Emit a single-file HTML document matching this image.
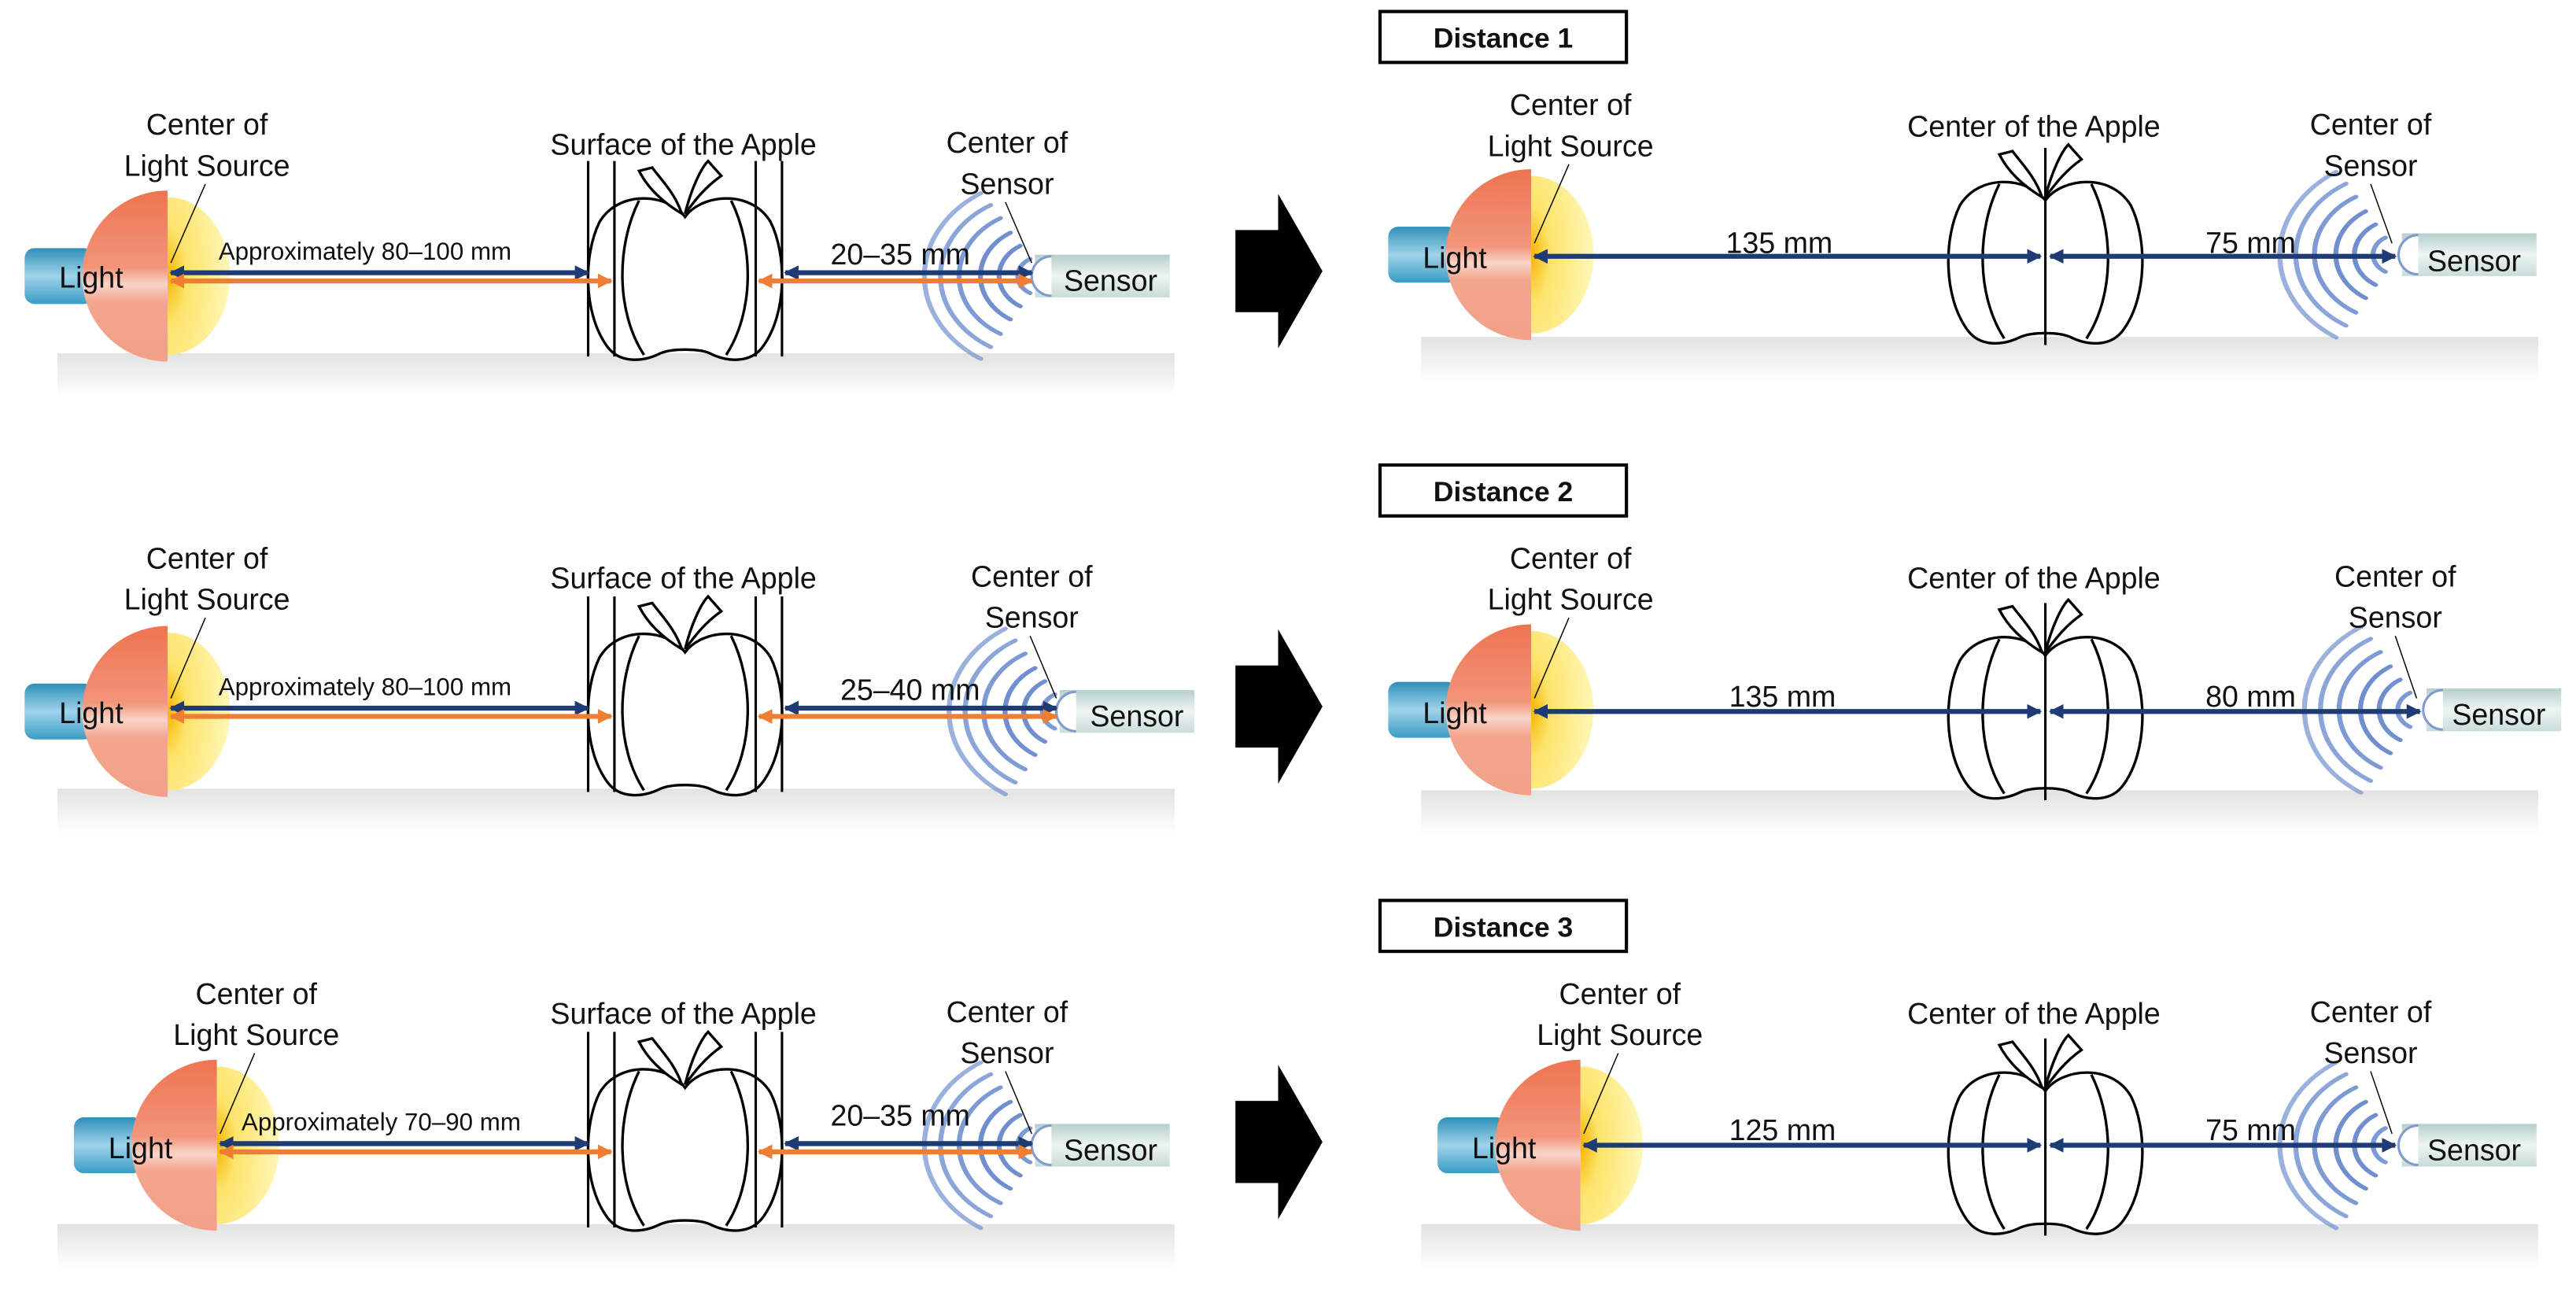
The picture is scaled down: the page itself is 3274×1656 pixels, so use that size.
<!DOCTYPE html>
<html><head><meta charset="utf-8"><style>html,body{margin:0;padding:0;background:#fff}svg{display:block}text{font-family:"Liberation Sans",Arial,sans-serif;fill:#111}</style></head>
<body>
<svg width="3274" height="1656" viewBox="0 0 1568 793" preserveAspectRatio="none" xmlns="http://www.w3.org/2000/svg">
<defs>
<linearGradient id="floor" x1="0" y1="0" x2="0" y2="1"><stop offset="0" stop-color="#e2e2e2"/><stop offset="1" stop-color="#ffffff"/></linearGradient>
<linearGradient id="cap" x1="0" y1="0" x2="0" y2="1"><stop offset="0" stop-color="#2f8fb8"/><stop offset="0.5" stop-color="#9fd3ea"/><stop offset="1" stop-color="#3a9cc6"/></linearGradient>
<linearGradient id="orng" x1="0" y1="0" x2="0" y2="1"><stop offset="0" stop-color="#ee7450"/><stop offset="0.45" stop-color="#f2957a"/><stop offset="0.55" stop-color="#f8d4c8"/><stop offset="0.65" stop-color="#f4a58d"/><stop offset="1" stop-color="#f2a088"/></linearGradient>
<radialGradient id="ylw" cx="0" cy="0.5" r="1"><stop offset="0" stop-color="#f5b400"/><stop offset="0.3" stop-color="#fde36a"/><stop offset="1" stop-color="#fff7b8"/></radialGradient>
<linearGradient id="sens" x1="0" y1="0" x2="0" y2="1"><stop offset="0" stop-color="#b5cfcb"/><stop offset="0.5" stop-color="#eef5f3"/><stop offset="1" stop-color="#c8dcd8"/></linearGradient>
<marker id="an" viewBox="0 0 10 10" refX="9" refY="5" markerWidth="3" markerHeight="3" orient="auto-start-reverse"><path d="M0,0 L10,5 L0,10 Z" fill="#1f3b73"/></marker>
<marker id="ao" viewBox="0 0 10 10" refX="9" refY="5" markerWidth="3" markerHeight="3" orient="auto-start-reverse"><path d="M0,0 L10,5 L0,10 Z" fill="#ef7d32"/></marker>
<g id="light">
<rect x="-87" y="-17" width="42" height="34" rx="6" fill="url(#cap)"/>
<path d="M0,-48 A38,48 0 0 1 0,48 Z" fill="url(#ylw)"/>
<path d="M0,-52 A52,52 0 0 0 0,52 Z" fill="url(#orng)"/>
</g>
<g id="apple" fill="none" stroke="#000" stroke-width="1.6">
<path d="M0,22 C-10,8 -40,5 -52,25 C-62,45 -62,80 -48,100 C-40,112 -25,110 -15,105 C-8,102 8,102 15,105 C25,110 40,112 48,100 C62,80 62,45 52,25 C40,5 10,8 0,22 Z" fill="#fff"/>
<path d="M-28,12 C-42,40 -42,80 -25,106"/>
<path d="M28,12 C42,40 42,80 25,106"/>
<path d="M-2,20 C-6,8 -14,0 -20,-8 L-28,-6 C-22,6 -12,14 -2,20 Z" fill="#fff"/>
<path d="M0,20 C4,4 10,-8 14,-12 L22,-3 C12,4 6,12 0,20 Z" fill="#fff"/>
</g>
<g id="waves" fill="none" stroke="#6f8fcf" stroke-width="3" stroke-linecap="round" transform="scale(1,0.8)">
<path d="M-8,-13 A15,15 0 0 0 -8,13" opacity="0.9"/>
<path d="M-14,-23 A27,27 0 0 0 -14,23"/>
<path d="M-20,-33 A39,39 0 0 0 -20,33"/>
<path d="M-26,-44 A51,51 0 0 0 -26,44" opacity="0.9"/>
<path d="M-32,-54 A63,63 0 0 0 -32,54" opacity="0.8"/>
<path d="M-38,-63 A75,75 0 0 0 -38,63" opacity="0.7"/>
</g>
<g id="sensor">
<rect x="0" y="-13" width="82" height="26" fill="url(#sens)"/>
<path d="M10,-12 A12,12 0 0 0 10,12" fill="#fff" stroke="#7f9bd0" stroke-width="1.5"/>
</g>
<g id="bigarrow"><path d="M752,140 L778,140 L778,118 L805,165 L778,212 L778,190 L752,190 Z" fill="#000"/></g>
</defs>

<!-- ========== ROW 1 ========== -->
<rect x="35" y="215" width="680" height="27" fill="url(#floor)"/>
<use href="#light" x="102" y="168"/>
<text x="36" y="175" font-size="18">Light</text>
<text x="126" y="82" font-size="18" text-anchor="middle">Center of</text>
<text x="126" y="107" font-size="18" text-anchor="middle">Light Source</text>
<line x1="125" y1="112" x2="104" y2="160" stroke="#000" stroke-width="0.7"/>
<use href="#waves" x="635" y="168"/>
<use href="#sensor" x="630" y="168"/>
<text x="676" y="177" font-size="18" text-anchor="middle">Sensor</text>
<text x="613" y="93" font-size="18" text-anchor="middle">Center of</text>
<text x="613" y="118" font-size="18" text-anchor="middle">Sensor</text>
<line x1="612" y1="123" x2="628" y2="160" stroke="#000" stroke-width="0.7"/>
<use href="#apple" x="417" y="110"/>
<g stroke="#000" stroke-width="1.5"><line x1="358" y1="98" x2="358" y2="217"/><line x1="374" y1="98" x2="374" y2="217"/><line x1="460" y1="98" x2="460" y2="217"/><line x1="476" y1="98" x2="476" y2="217"/></g>
<text x="416" y="94" font-size="18" text-anchor="middle">Surface of the Apple</text>
<line x1="104" y1="166" x2="358" y2="166" stroke="#1f3b73" stroke-width="3" marker-start="url(#an)" marker-end="url(#an)"/>
<line x1="104" y1="171" x2="372" y2="171" stroke="#ef7d32" stroke-width="3" marker-start="url(#ao)" marker-end="url(#ao)"/>
<line x1="478" y1="166" x2="628" y2="166" stroke="#1f3b73" stroke-width="3" marker-start="url(#an)" marker-end="url(#an)"/>
<line x1="462" y1="171" x2="628" y2="171" stroke="#ef7d32" stroke-width="3" marker-start="url(#ao)" marker-end="url(#ao)"/>
<text x="133" y="158" font-size="15">Approximately 80–100 mm</text>
<text x="548" y="161" font-size="18" text-anchor="middle">20–35 mm</text>
<use href="#bigarrow"/>

<rect x="840" y="7" width="150" height="31" fill="#fff" stroke="#000" stroke-width="2"/>
<text x="915" y="29" font-size="17" font-weight="bold" text-anchor="middle">Distance 1</text>
<rect x="865" y="205" width="680" height="27" fill="url(#floor)"/>
<use href="#light" x="932" y="155"/>
<text x="866" y="163" font-size="18">Light</text>
<text x="956" y="70" font-size="18" text-anchor="middle">Center of</text>
<text x="956" y="95" font-size="18" text-anchor="middle">Light Source</text>
<line x1="955" y1="100" x2="934" y2="148" stroke="#000" stroke-width="0.7"/>
<use href="#waves" x="1460" y="155"/>
<use href="#sensor" x="1462" y="155"/>
<text x="1506" y="165" font-size="18" text-anchor="middle">Sensor</text>
<text x="1443" y="82" font-size="18" text-anchor="middle">Center of</text>
<text x="1443" y="107" font-size="18" text-anchor="middle">Sensor</text>
<line x1="1443" y1="112" x2="1456" y2="148" stroke="#000" stroke-width="0.7"/>
<use href="#apple" x="1245" y="100"/>
<line x1="1245" y1="90" x2="1245" y2="210" stroke="#000" stroke-width="1.5"/>
<text x="1238" y="83" font-size="18" text-anchor="middle">Center of the Apple</text>
<line x1="934" y1="156" x2="1242" y2="156" stroke="#1f3b73" stroke-width="3" marker-start="url(#an)" marker-end="url(#an)"/>
<line x1="1248" y1="156" x2="1458" y2="156" stroke="#1f3b73" stroke-width="3" marker-start="url(#an)" marker-end="url(#an)"/>
<text x="1083" y="154" font-size="18" text-anchor="middle">135 mm</text>
<text x="1370" y="154" font-size="18" text-anchor="middle">75 mm</text>

<!-- ========== ROW 2 ========== -->
<rect x="35" y="480" width="680" height="27" fill="url(#floor)"/>
<use href="#light" x="102" y="433"/>
<text x="36" y="440" font-size="18">Light</text>
<text x="126" y="346" font-size="18" text-anchor="middle">Center of</text>
<text x="126" y="371" font-size="18" text-anchor="middle">Light Source</text>
<line x1="125" y1="376" x2="104" y2="425" stroke="#000" stroke-width="0.7"/>
<use href="#waves" x="650" y="433"/>
<use href="#sensor" x="645" y="433"/>
<text x="692" y="442" font-size="18" text-anchor="middle">Sensor</text>
<text x="628" y="357" font-size="18" text-anchor="middle">Center of</text>
<text x="628" y="382" font-size="18" text-anchor="middle">Sensor</text>
<line x1="627" y1="387" x2="643" y2="425" stroke="#000" stroke-width="0.7"/>
<use href="#apple" x="417" y="375"/>
<g stroke="#000" stroke-width="1.5"><line x1="358" y1="363" x2="358" y2="482"/><line x1="374" y1="363" x2="374" y2="482"/><line x1="460" y1="363" x2="460" y2="482"/><line x1="476" y1="363" x2="476" y2="482"/></g>
<text x="416" y="358" font-size="18" text-anchor="middle">Surface of the Apple</text>
<line x1="104" y1="431" x2="358" y2="431" stroke="#1f3b73" stroke-width="3" marker-start="url(#an)" marker-end="url(#an)"/>
<line x1="104" y1="436" x2="372" y2="436" stroke="#ef7d32" stroke-width="3" marker-start="url(#ao)" marker-end="url(#ao)"/>
<line x1="478" y1="431" x2="643" y2="431" stroke="#1f3b73" stroke-width="3" marker-start="url(#an)" marker-end="url(#an)"/>
<line x1="462" y1="436" x2="643" y2="436" stroke="#ef7d32" stroke-width="3" marker-start="url(#ao)" marker-end="url(#ao)"/>
<text x="133" y="423" font-size="15">Approximately 80–100 mm</text>
<text x="554" y="426" font-size="18" text-anchor="middle">25–40 mm</text>
<use href="#bigarrow" y="265"/>

<rect x="840" y="283" width="150" height="31" fill="#fff" stroke="#000" stroke-width="2"/>
<text x="915" y="305" font-size="17" font-weight="bold" text-anchor="middle">Distance 2</text>
<rect x="865" y="481" width="680" height="27" fill="url(#floor)"/>
<use href="#light" x="932" y="432"/>
<text x="866" y="440" font-size="18">Light</text>
<text x="956" y="346" font-size="18" text-anchor="middle">Center of</text>
<text x="956" y="371" font-size="18" text-anchor="middle">Light Source</text>
<line x1="955" y1="376" x2="934" y2="425" stroke="#000" stroke-width="0.7"/>
<use href="#waves" x="1475" y="432"/>
<use href="#sensor" x="1477" y="432"/>
<text x="1521" y="441" font-size="18" text-anchor="middle">Sensor</text>
<text x="1458" y="357" font-size="18" text-anchor="middle">Center of</text>
<text x="1458" y="382" font-size="18" text-anchor="middle">Sensor</text>
<line x1="1458" y1="387" x2="1471" y2="425" stroke="#000" stroke-width="0.7"/>
<use href="#apple" x="1245" y="377"/>
<line x1="1245" y1="367" x2="1245" y2="487" stroke="#000" stroke-width="1.5"/>
<text x="1238" y="358" font-size="18" text-anchor="middle">Center of the Apple</text>
<line x1="934" y1="433" x2="1242" y2="433" stroke="#1f3b73" stroke-width="3" marker-start="url(#an)" marker-end="url(#an)"/>
<line x1="1248" y1="433" x2="1473" y2="433" stroke="#1f3b73" stroke-width="3" marker-start="url(#an)" marker-end="url(#an)"/>
<text x="1085" y="430" font-size="18" text-anchor="middle">135 mm</text>
<text x="1370" y="430" font-size="18" text-anchor="middle">80 mm</text>

<!-- ========== ROW 3 ========== -->
<rect x="35" y="745" width="680" height="27" fill="url(#floor)"/>
<use href="#light" x="132" y="697"/>
<text x="66" y="705" font-size="18">Light</text>
<text x="156" y="611" font-size="18" text-anchor="middle">Center of</text>
<text x="156" y="636" font-size="18" text-anchor="middle">Light Source</text>
<line x1="155" y1="641" x2="134" y2="690" stroke="#000" stroke-width="0.7"/>
<use href="#waves" x="635" y="697"/>
<use href="#sensor" x="630" y="697"/>
<text x="676" y="706" font-size="18" text-anchor="middle">Sensor</text>
<text x="613" y="622" font-size="18" text-anchor="middle">Center of</text>
<text x="613" y="647" font-size="18" text-anchor="middle">Sensor</text>
<line x1="612" y1="652" x2="628" y2="690" stroke="#000" stroke-width="0.7"/>
<use href="#apple" x="417" y="640"/>
<g stroke="#000" stroke-width="1.5"><line x1="358" y1="628" x2="358" y2="747"/><line x1="374" y1="628" x2="374" y2="747"/><line x1="460" y1="628" x2="460" y2="747"/><line x1="476" y1="628" x2="476" y2="747"/></g>
<text x="416" y="623" font-size="18" text-anchor="middle">Surface of the Apple</text>
<line x1="134" y1="696" x2="358" y2="696" stroke="#1f3b73" stroke-width="3" marker-start="url(#an)" marker-end="url(#an)"/>
<line x1="134" y1="701" x2="372" y2="701" stroke="#ef7d32" stroke-width="3" marker-start="url(#ao)" marker-end="url(#ao)"/>
<line x1="478" y1="696" x2="628" y2="696" stroke="#1f3b73" stroke-width="3" marker-start="url(#an)" marker-end="url(#an)"/>
<line x1="462" y1="701" x2="628" y2="701" stroke="#ef7d32" stroke-width="3" marker-start="url(#ao)" marker-end="url(#ao)"/>
<text x="147" y="688" font-size="15">Approximately  70–90 mm</text>
<text x="548" y="685" font-size="18" text-anchor="middle">20–35 mm</text>
<use href="#bigarrow" y="530"/>

<rect x="840" y="548" width="150" height="31" fill="#fff" stroke="#000" stroke-width="2"/>
<text x="915" y="570" font-size="17" font-weight="bold" text-anchor="middle">Distance 3</text>
<rect x="865" y="745" width="680" height="27" fill="url(#floor)"/>
<use href="#light" x="962" y="697"/>
<text x="896" y="705" font-size="18">Light</text>
<text x="986" y="611" font-size="18" text-anchor="middle">Center of</text>
<text x="986" y="636" font-size="18" text-anchor="middle">Light Source</text>
<line x1="985" y1="641" x2="964" y2="690" stroke="#000" stroke-width="0.7"/>
<use href="#waves" x="1460" y="697"/>
<use href="#sensor" x="1462" y="697"/>
<text x="1506" y="706" font-size="18" text-anchor="middle">Sensor</text>
<text x="1443" y="622" font-size="18" text-anchor="middle">Center of</text>
<text x="1443" y="647" font-size="18" text-anchor="middle">Sensor</text>
<line x1="1443" y1="652" x2="1456" y2="690" stroke="#000" stroke-width="0.7"/>
<use href="#apple" x="1245" y="642"/>
<line x1="1245" y1="632" x2="1245" y2="752" stroke="#000" stroke-width="1.5"/>
<text x="1238" y="623" font-size="18" text-anchor="middle">Center of the Apple</text>
<line x1="964" y1="697" x2="1242" y2="697" stroke="#1f3b73" stroke-width="3" marker-start="url(#an)" marker-end="url(#an)"/>
<line x1="1248" y1="697" x2="1458" y2="697" stroke="#1f3b73" stroke-width="3" marker-start="url(#an)" marker-end="url(#an)"/>
<text x="1085" y="694" font-size="18" text-anchor="middle">125 mm</text>
<text x="1370" y="694" font-size="18" text-anchor="middle">75 mm</text>
</svg>
</body></html>
